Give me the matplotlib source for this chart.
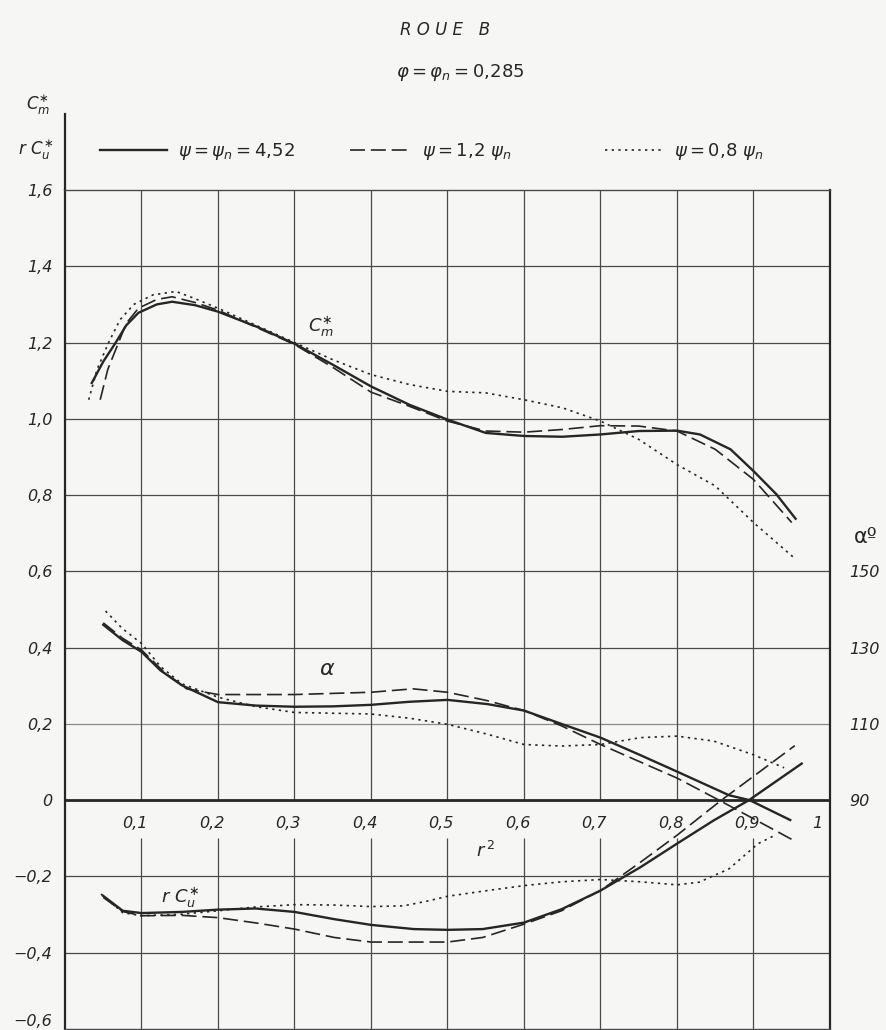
import matplotlib
matplotlib.use("Agg")
import matplotlib.pyplot as plt

# --- data (x = r^2) ---
cm_solid_x = [0.035, 0.05, 0.066, 0.08, 0.096, 0.12, 0.14, 0.17, 0.2, 0.25, 0.3, 0.35, 0.4, 0.45, 0.5,
              0.55, 0.6, 0.65, 0.7, 0.75, 0.8, 0.83, 0.87, 0.9, 0.93, 0.955]
cm_solid_y = [1.094, 1.15, 1.199, 1.245, 1.278, 1.300, 1.307, 1.298, 1.281, 1.242, 1.197, 1.142, 1.085, 1.037, 0.998,
              0.963, 0.955, 0.953, 0.959, 0.968, 0.969, 0.959, 0.920, 0.863, 0.802, 0.738]

cm_dash_x = [0.046, 0.056, 0.068, 0.08, 0.096, 0.12, 0.14, 0.17, 0.2, 0.25, 0.3, 0.35, 0.4, 0.45, 0.5,
             0.55, 0.6, 0.65, 0.7, 0.75, 0.8, 0.85, 0.9, 0.95]
cm_dash_y = [1.05, 1.13, 1.19, 1.25, 1.29, 1.313, 1.32, 1.305, 1.285, 1.24, 1.195, 1.135, 1.07, 1.033, 0.994,
             0.968, 0.965, 0.972, 0.982, 0.981, 0.968, 0.920, 0.841, 0.728]

cm_dot_x = [0.031, 0.042, 0.057, 0.072, 0.09, 0.115, 0.145, 0.17, 0.2, 0.25, 0.3, 0.35, 0.4, 0.45, 0.5,
            0.55, 0.6, 0.65, 0.7, 0.75, 0.8, 0.85, 0.9, 0.955]
cm_dot_y = [1.05, 1.13, 1.20, 1.26, 1.30, 1.325, 1.334, 1.315, 1.29, 1.245, 1.20, 1.155, 1.116, 1.09, 1.072,
            1.068, 1.05, 1.029, 0.994, 0.946, 0.880, 0.824, 0.728, 0.632]

alpha_solid_x = [0.05, 0.075, 0.1, 0.125, 0.153, 0.2, 0.25, 0.3, 0.35, 0.4, 0.45, 0.5, 0.552, 0.6, 0.649,
                 0.7, 0.75, 0.8, 0.868, 0.895, 0.948]
alpha_solid_y = [0.460, 0.420, 0.389, 0.340, 0.301, 0.257, 0.248, 0.245, 0.246, 0.250, 0.258, 0.263, 0.252, 0.235, 0.200,
                 0.164, 0.120, 0.075, 0.013, 0.0, -0.052]

alpha_dash_x = [0.05, 0.075, 0.1, 0.13, 0.159, 0.2, 0.3, 0.4, 0.455, 0.5, 0.552, 0.6, 0.649,
                0.7, 0.8, 0.855, 0.952]
alpha_dash_y = [0.465, 0.425, 0.394, 0.335, 0.292, 0.277, 0.277, 0.283, 0.292, 0.283, 0.261, 0.235, 0.195,
                0.146, 0.058, 0.0, -0.105]

alpha_dot_x = [0.053, 0.075, 0.1, 0.125, 0.153, 0.2, 0.25, 0.3, 0.4, 0.45, 0.5, 0.552, 0.6, 0.649,
               0.7, 0.752, 0.8, 0.848, 0.9, 0.94]
alpha_dot_y = [0.496, 0.450, 0.411, 0.350, 0.305, 0.270, 0.245, 0.230, 0.226, 0.215, 0.199, 0.173, 0.146, 0.142,
               0.146, 0.164, 0.168, 0.155, 0.119, 0.085]

rcu_solid_x = [0.05, 0.0755, 0.1, 0.153, 0.2, 0.249, 0.3, 0.352, 0.4, 0.456, 0.5, 0.546, 0.6, 0.649,
               0.7, 0.752, 0.8, 0.848, 0.894, 0.963]
rcu_solid_y = [-0.251, -0.290, -0.296, -0.293, -0.287, -0.284, -0.293, -0.312, -0.327, -0.338, -0.340, -0.338, -0.321, -0.286,
               -0.237, -0.176, -0.114, -0.053, 0.0, 0.096]

rcu_dash_x = [0.05, 0.0755, 0.1, 0.153, 0.2, 0.25, 0.3, 0.352, 0.4, 0.456, 0.5, 0.546, 0.6, 0.649,
              0.7, 0.752, 0.8, 0.858, 0.954]
rcu_dash_y = [-0.255, -0.292, -0.303, -0.302, -0.308, -0.322, -0.338, -0.360, -0.372, -0.372, -0.372, -0.360, -0.325, -0.290,
              -0.237, -0.163, -0.092, 0.0, 0.143]

rcu_dot_x = [0.047, 0.0755, 0.1, 0.153, 0.2, 0.249, 0.3, 0.352, 0.4, 0.443, 0.475, 0.5, 0.552, 0.6, 0.649,
             0.7, 0.752, 0.8, 0.829, 0.868, 0.906, 0.925]
rcu_dot_y = [-0.246, -0.295, -0.303, -0.299, -0.290, -0.280, -0.274, -0.275, -0.279, -0.277, -0.264, -0.252, -0.237, -0.224, -0.214,
             -0.208, -0.214, -0.222, -0.215, -0.180, -0.114, -0.095]

x_grid = [0.1, 0.2, 0.3, 0.4, 0.5, 0.6, 0.7, 0.8, 0.9]
x_tick_labels = ["0,1", "0,2", "0,3", "0,4", "0,5", "0,6", "0,7", "0,8", "0,9", "1"]
x_tick_pos = [0.1, 0.2, 0.3, 0.4, 0.5, 0.6, 0.7, 0.8, 0.9, 1.0]
y_ticks = [-0.6, -0.4, -0.2, 0, 0.2, 0.4, 0.6, 0.8, 1.0, 1.2, 1.4, 1.6]
y_tick_labels = ["\u22120,6", "\u22120,4", "\u22120,2", "0", "0,2", "0,4", "0,6", "0,8", "1,0", "1,2", "1,4", "1,6"]
alpha_ticks = [90, 110, 130, 150]
legend_labels = [r"$\psi = \psi_n = 4{,}52$", r"$\psi = 1{,}2\ \psi_n$", r"$\psi = 0{,}8\ \psi_n$"]

INK = "#262626"
PAPER = "#f6f6f4"
W, H = 887, 1030

fig = plt.figure(figsize=(W / 100, H / 100), dpi=100, facecolor=PAPER)
ax = fig.add_axes([65 / W, 1 / H, 765 / W, (H - 1 - 190) / H])
ax.set_facecolor(PAPER)
ax.set_xlim(0, 1)
ax.set_ylim(-0.6, 1.6)

# grid
for yv in y_ticks[1:-1]:
    if yv == 0:
        continue
    ax.axhline(yv, color="#4a4a4a" if yv != 0.2 else "#8a8a8a", lw=0.9, zorder=1)
ax.axhline(0, color=INK, lw=2.0, zorder=2)
ax.vlines(x_grid, 0, 1.6, color="#4a4a4a", lw=0.9, zorder=1)
ax.vlines(x_grid, -0.6, -0.1, color="#4a4a4a", lw=0.9, zorder=1)

for s in ["left", "right"]:
    ax.spines[s].set_linewidth(1.6)
    ax.spines[s].set_color(INK)
for s in ["top", "bottom"]:
    ax.spines[s].set_linewidth(1.0)
    ax.spines[s].set_color("#4a4a4a")
# left axis continues above the frame
ax.plot([0, 0], [1.6, 1.8], color=INK, lw=1.6, clip_on=False)

dash = (0, (9, 3.5))
dot = (0, (1.4, 2.6))
kw = dict(color=INK, zorder=3)
l1, = ax.plot(cm_solid_x, cm_solid_y, lw=1.7, ls="-", **kw)
l2, = ax.plot(cm_dash_x, cm_dash_y, lw=1.2, ls=dash, **kw)
l3, = ax.plot(cm_dot_x, cm_dot_y, lw=1.2, ls=dot, **kw)
ax.plot(alpha_solid_x, alpha_solid_y, lw=1.7, ls="-", **kw)
ax.plot(alpha_dash_x, alpha_dash_y, lw=1.2, ls=dash, **kw)
ax.plot(alpha_dot_x, alpha_dot_y, lw=1.2, ls=dot, **kw)
ax.plot(rcu_solid_x, rcu_solid_y, lw=1.7, ls="-", **kw)
ax.plot(rcu_dash_x, rcu_dash_y, lw=1.2, ls=dash, **kw)
ax.plot(rcu_dot_x, rcu_dot_y, lw=1.2, ls=dot, **kw)

# ticks
ax.set_xticks([])
ax.set_yticks(y_ticks)
ax.set_yticklabels(y_tick_labels, fontsize=11.5, fontstyle="italic", color=INK)
ax.tick_params(axis="y", length=0, pad=9)
ax.get_yticklabels()[0].set_va("bottom")
for xv, lab in zip(x_tick_pos, x_tick_labels):
    off = 0.016 if lab == "1" else 0.008
    ax.text(xv - off, -0.062, lab, ha="center", va="center",
            fontsize=11.5, fontstyle="italic", color=INK)

sec = ax.secondary_yaxis("right", functions=(lambda y: 90 + 100 * y, lambda a: (a - 90) / 100))
sec.set_yticks(alpha_ticks)
sec.set_yticklabels([str(a) for a in alpha_ticks], fontsize=11.5, fontstyle="italic", color=INK)
sec.tick_params(length=0, pad=14)
sec.spines["right"].set_visible(False)

# curve annotations
ax.text(0.335, 1.242, r"$C^{\ast}_{m}$", fontsize=13, color=INK, ha="center", va="center")
ax.text(0.343, 0.345, r"$\alpha$", fontsize=16, color=INK, ha="center", va="center")
ax.text(0.15, -0.255, r"$r\ C^{\ast}_{u}$", fontsize=13, color=INK, ha="center", va="center")
ax.text(0.55, -0.132, r"$r^{\,2}$", fontsize=13, color=INK, ha="center", va="center")

# axis names
fig.text(38 / W, 1 - 105 / H, r"$C^{\ast}_{m}$", fontsize=12, color=INK, ha="center", va="center")
fig.text(36 / W, 1 - 150 / H, r"$r\ C^{\ast}_{u}$", fontsize=12, color=INK, ha="center", va="center")
fig.text(866 / W, 1 - 537 / H, "\u03b1\u00ba", fontsize=15, color=INK, ha="center", va="center")

# titles
fig.text(445 / W, 1 - 30 / H, "R O U E   B", fontsize=12, fontstyle="italic", color=INK,
         ha="center", va="center")
fig.text(460 / W, 1 - 72 / H, r"$\varphi = \varphi_n = 0{,}285$", fontsize=13, color=INK,
         ha="center", va="center")

# legend row: one entry per legend so each sits where it does on the sheet
leg_x = [100, 350, 605]
leg_len = [3.7, 3.4, 3.2]
for handle, lab, x0, hl in zip([l1, l2, l3], legend_labels, leg_x, leg_len):
    leg = fig.legend([handle], [lab], loc="center left", bbox_to_anchor=(x0 / W, 1 - 152 / H),
                     frameon=False, handlelength=hl, fontsize=13, handletextpad=0.6,
                     borderpad=0, borderaxespad=0)
    for t in leg.get_texts():
        t.set_color(INK)

fig.savefig("out.png", dpi=100, facecolor=PAPER)
